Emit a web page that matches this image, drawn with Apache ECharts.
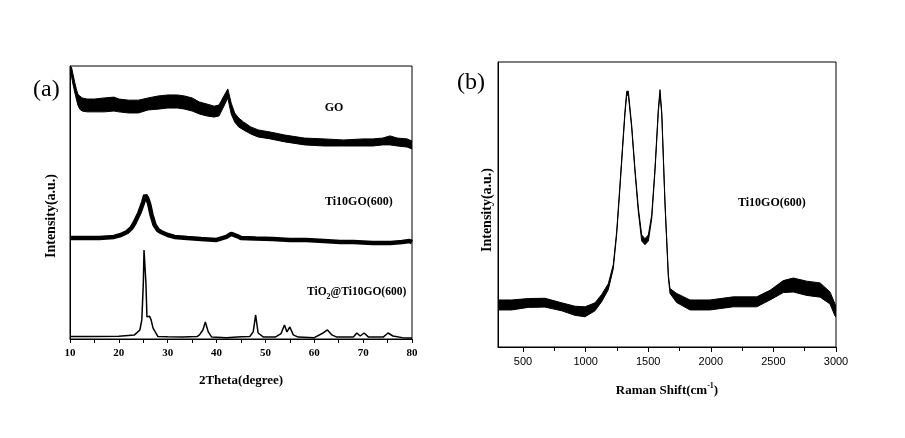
<!DOCTYPE html>
<html><head><meta charset="utf-8">
<script src="https://cdn.jsdelivr.net/npm/echarts@6/dist/echarts.min.js"></script>
<style>html,body{margin:0;padding:0;background:#fff}#c{width:905px;height:438px}</style>
</head><body><div id="c"></div>
<script>
// ---- (a) XRD data ----
const xTicksA = [10, 20, 30, 40, 50, 60, 70, 80];
const goX = [10,10.3,10.6,10.95,11.3,11.6,12,12.5,13.5,15,17,19,20,22,24,26,28,30,32,33.5,35,36.5,38,39.5,40.5,41.5,42.3,43,43.7,44.5,45.5,47,48.5,51,54,58,62,66,70,72,74,75.5,77,79,80];
const goHigh = [100.0,99.6,97.1,94.1,91.6,89.7,89.0,88.3,87.9,87.9,88.3,88.6,87.9,87.5,87.5,88.3,89.0,89.4,89.4,89.0,88.3,86.8,86.1,85.3,85.7,89.0,91.6,86.4,82.8,81.0,79.5,77.7,76.6,75.8,74.7,73.6,73.3,72.9,73.3,73.3,73.6,74.4,73.6,73.3,72.5];
const goLow = [97.8,96.3,93.4,90.5,87.9,85.7,84.2,83.5,83.2,83.2,83.2,83.5,83.2,82.8,82.8,83.9,84.2,84.6,84.6,84.2,83.5,82.4,81.7,81.3,81.7,85.3,88.3,82.4,79.5,77.7,76.6,75.1,74.0,73.3,72.2,71.1,70.7,70.7,70.7,70.7,71.1,71.1,70.7,70.3,69.6];
const tiX = [10,13,16,19,20.4,21.7,22.6,23.2,24.2,25.0,25.4,25.8,26.2,26.7,27.3,28.0,28.6,30,31.4,34,36.8,40,42,43,44.2,45,48,51.5,55,58.3,62,65.3,68,72,75.6,78,79.5,80];
const tiY = [37.0,37.0,37.0,37.4,38.1,39.2,40.7,42.5,46.2,50.2,52.7,51.6,49.5,45.4,41.8,39.9,39.2,38.1,37.4,37.0,36.6,36.3,37.4,38.5,37.7,37.0,36.8,36.6,36.3,36.3,35.9,35.5,35.5,35.2,35.2,35.5,35.9,35.5];
const toX = [10,15,20,23.2,24.3,24.7,25.0,25.15,25.35,25.55,25.75,26.0,26.3,26.6,27.0,28.0,30,33,36,36.5,37.2,37.7,38.3,39,42,45,46.8,47.5,48.0,48.5,49.6,52,53.2,53.9,54.4,55.0,55.7,56.7,60,61.8,62.7,63.6,64.6,68,68.7,69.4,70.2,71.1,74.1,75.1,76.1,78,80];
const toY = [0.9,0.9,1.0,1.5,3.3,7.0,20.0,32.6,33.3,20.0,8.1,7.7,8.3,7.0,4.0,0.9,0.8,0.7,0.9,1.5,3.3,6.2,2.6,0.7,0.5,0.8,0.9,2.6,8.8,2.2,0.7,0.7,2.0,5.1,2.6,4.4,1.5,0.7,0.5,2.2,3.3,1.5,0.7,0.7,2.2,1.1,2.2,0.7,0.7,2.2,1.1,0.5,0.4];

// ---- (b) Raman data ----
const xTicksB = [500, 1000, 1500, 2000, 2500, 3000];
const xMinorB = [750, 1250, 1750, 2250, 2750];
const raX = [300,409,542,675,809,915,995,1075,1128,1181,1221,1248,1274,1301,1315,1328,1341,1368,1394,1421,1448,1474,1501,1528,1554,1581,1594,1608,1634,1661,1674,1727,1834,1993,2180,2367,2473,2579,2659,2766,2873,2952,2992,3000];
const raHigh = [16.5,16.5,17.0,17.1,15.5,14.3,14.1,15.5,18.4,22.2,28.9,40.5,56.8,74.3,83.2,89.7,89.8,77.8,62.6,48.8,39.3,38.0,39.3,46.4,62.6,83.7,90.3,82.6,51.0,25.2,20.5,18.8,16.5,16.5,17.6,17.6,19.9,23.3,24.2,23.1,22.5,19.3,15.1,14.0];
const raLow = [13.0,13.0,13.9,14.0,12.7,11.1,10.6,12.7,15.9,20.1,27.5,39.5,55.7,73.3,82.2,88.3,88.4,76.8,61.6,47.4,37.2,35.9,37.2,45.0,61.6,82.6,88.9,81.6,50.0,24.2,18.8,15.6,13.0,13.0,14.1,14.1,16.5,19.1,19.3,18.1,17.5,15.1,10.9,10.5];

const pairs = (xs, ys) => xs.map((x, i) => [x, ys[i]]);
const triples = (xs, lo, hi) => xs.map((x, i) => [x, lo[i], hi[i]]);
const serif = '"Liberation Serif", "Times New Roman", serif';
const sans = '"Liberation Sans", Arial, sans-serif';

// noise envelope of a trace, drawn as one polygon through the axes' scales
function makeBand(name, xi, yi, xs, lo, hi) {
  return {
    name: name, type: 'custom', xAxisIndex: xi, yAxisIndex: yi, clip: true,
    data: triples(xs, lo, hi),
    encode: {x: 0, y: [1, 2]},
    renderItem: function (params, api) {
      if (params.dataIndex !== 0) return null;
      const top = xs.map((x, i) => api.coord([x, hi[i]]));
      const bot = xs.map((x, i) => api.coord([x, lo[i]])).reverse();
      return {type: 'polygon', shape: {points: top.concat(bot)},
        style: {fill: '#000', stroke: '#000', lineWidth: 1}};
    }
  };
}

const chart = echarts.init(document.getElementById('c'), null, {renderer: 'canvas'});
const blackLine = (w) => ({color: '#000', width: w});
const yAxisBase = (g) => ({gridIndex: g, type: 'value', min: 0, max: 100,
  axisLabel: {show: false}, axisTick: {show: false}, splitLine: {show: false},
  axisLine: {show: true, lineStyle: {color: '#000'}}});

const option = {
  animation: false,
  backgroundColor: '#fff',
  grid: [
    {left: 70, top: 66, width: 342, height: 273, show: true, borderColor: '#000', borderWidth: 1},
    {left: 498, top: 62, width: 338, height: 285, show: true, borderColor: '#000', borderWidth: 1}
  ],
  xAxis: [
    {gridIndex: 0, type: 'value', min: xTicksA[0], max: xTicksA[xTicksA.length - 1], interval: 10,
      name: '2Theta(degree)', nameLocation: 'middle', nameGap: 35,
      nameTextStyle: {fontFamily: serif, fontWeight: 'bold', fontSize: 13, color: '#000'},
      axisLine: {show: true, lineStyle: {color: '#000'}},
      axisTick: {show: true, inside: false, length: 4, lineStyle: {color: '#000'}},
      minorTick: {show: true, splitNumber: 2, length: 4, lineStyle: {color: '#000'}},
      splitLine: {show: false}, minorSplitLine: {show: false},
      axisLabel: {fontFamily: serif, fontWeight: 'bold', fontSize: 11, color: '#000', margin: 9,
        formatter: (v) => String(v)}},
    {gridIndex: 1, type: 'value', min: 300, max: 3000,
      name: 'Raman Shift(cm{sup|-1})', nameLocation: 'middle', nameGap: 35,
      nameTextStyle: {fontFamily: serif, fontWeight: 'bold', fontSize: 13, color: '#000', lineHeight: 18,
        rich: {sup: {fontFamily: serif, fontWeight: 'bold', fontSize: 8, color: '#000', verticalAlign: 'top', lineHeight: 18}}},
      axisLine: {show: true, lineStyle: {color: '#000'}},
      axisTick: {show: true, inside: false, length: 5, customValues: xTicksB, lineStyle: {color: '#000'}},
      splitLine: {show: false},
      axisLabel: {customValues: xTicksB, fontFamily: sans, fontSize: 11, color: '#000', margin: 9,
        formatter: (v) => String(v)}},
    {gridIndex: 1, type: 'value', min: 300, max: 3000, position: 'bottom',
      axisLine: {show: false}, axisLabel: {show: false}, splitLine: {show: false},
      axisTick: {show: true, inside: false, length: 4, customValues: xMinorB, lineStyle: {color: '#000'}}}
  ],
  yAxis: [yAxisBase(0), yAxisBase(1)],
  series: [
    makeBand('GO', 0, 0, goX, goLow, goHigh),
    {name: 'Ti10GO(600)', type: 'line', xAxisIndex: 0, yAxisIndex: 0, symbol: 'none',
      data: pairs(tiX, tiY), lineStyle: blackLine(4.5)},
    {name: 'TiO2@Ti10GO(600)', type: 'line', xAxisIndex: 0, yAxisIndex: 0, symbol: 'none',
      data: pairs(toX, toY), lineStyle: blackLine(1.5)},
    makeBand('Raman', 1, 1, raX, raLow, raHigh)
  ],
  graphic: [
    {type: 'text', x: 33, y: 90, style: {text: '(a)', fill: '#000', font: 'normal 24px ' + serif, align: 'left', verticalAlign: 'middle'}},
    {type: 'text', x: 457, y: 83, style: {text: '(b)', fill: '#000', font: 'normal 24px ' + serif, align: 'left', verticalAlign: 'middle'}},
    {type: 'text', x: 334, y: 108, style: {text: 'GO', fill: '#000', font: 'bold 12px ' + serif, align: 'center', verticalAlign: 'middle'}},
    {type: 'text', x: 325, y: 202, style: {text: 'Ti10GO(600)', fill: '#000', font: 'bold 12px ' + serif, align: 'left', verticalAlign: 'middle'}},
    {type: 'text', x: 307, y: 292, style: {text: 'TiO{sub|2}@Ti10GO(600)', fill: '#000', font: 'bold 11.5px ' + serif, lineHeight: 18,
      align: 'left', verticalAlign: 'middle',
      rich: {sub: {fontFamily: serif, fontWeight: 'bold', fontSize: 8, fill: '#000', verticalAlign: 'bottom', lineHeight: 18}}}},
    {type: 'text', x: 738, y: 203, style: {text: 'Ti10GO(600)', fill: '#000', font: 'bold 12px ' + serif, align: 'left', verticalAlign: 'middle'}},
    {type: 'text', x: 51, y: 216, rotation: Math.PI / 2, style: {text: 'Intensity(a.u.)', fill: '#000', font: 'bold 14px ' + serif, align: 'center', verticalAlign: 'middle'}},
    {type: 'text', x: 487, y: 210, rotation: Math.PI / 2, style: {text: 'Intensity(a.u.)', fill: '#000', font: 'bold 14px ' + serif, align: 'center', verticalAlign: 'middle'}}
  ]
};
chart.setOption(option);
</script>
</body></html>
